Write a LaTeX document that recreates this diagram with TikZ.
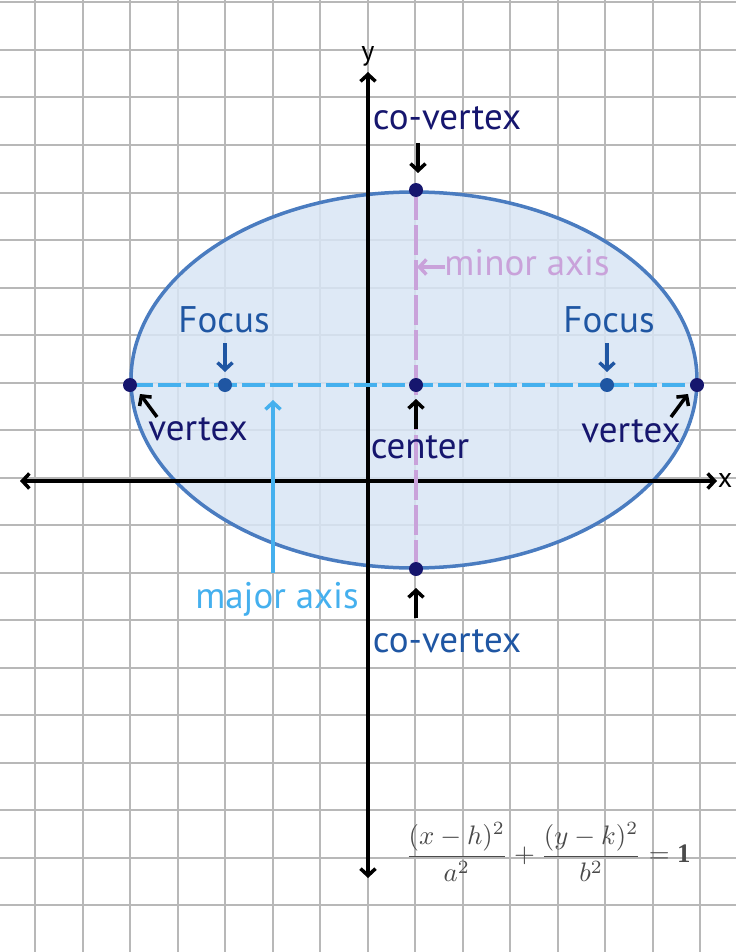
\documentclass[tikz,border=0pt]{standalone}
\usepackage{fontspec}
\setmainfont{PT Sans}
\newfontfamily\eqserif{Liberation Serif}
\usetikzlibrary{arrows.meta}
\definecolor{gridc}{HTML}{B8B8B8}
\definecolor{ellfill}{HTML}{D8E5F4}
\definecolor{elldraw}{HTML}{4A7CC0}
\definecolor{navy}{HTML}{16166E}
\definecolor{midblue}{HTML}{1F56A3}
\definecolor{lightblue}{HTML}{45B0EE}
\definecolor{lilac}{HTML}{C9A2DA}
\definecolor{formulac}{HTML}{4A4A4A}
\tikzset{
  lbl/.style={font=\fontsize{37}{40}\selectfont, anchor=base, inner sep=0pt},
  axlbl/.style={font=\fontsize{28}{30}\selectfont, anchor=base, inner sep=0pt},
  axisline/.style={line width=3.5pt, {Straight Barb[length=7pt,width=15pt,line width=3.5pt]}-{Straight Barb[length=7pt,width=15pt,line width=3.5pt]}},
  ptr/.style={line width=3.5pt, -{Straight Barb[length=7pt,width=15pt,line width=3.5pt]}},
  dotnavy/.style={circle, fill=navy, minimum size=14pt, inner sep=0pt},
  dotfocus/.style={circle, fill=midblue, minimum size=14pt, inner sep=0pt},
}
\begin{document}
\begin{tikzpicture}[x=1pt,y=-1pt]
\useasboundingbox (0,0) rectangle (736,952);
% grid
\foreach \i in {0,...,14} {
  \draw[gridc, line width=2pt] ({35+47.5*\i},0) -- ({35+47.5*\i},952);
}
\foreach \j in {0,...,20} {
  \draw[gridc, line width=2pt] (0,{2.5+47.5*\j}) -- (736,{2.5+47.5*\j});
}
% ellipse
\draw[elldraw, line width=3.5pt, fill=ellfill, fill opacity=0.85] (414,380) ellipse [x radius=283, y radius=188];
% axes
\node[axlbl] (xl) at (725,487) {x};
\node[axlbl] (yl) at (368,61) {y};
\coordinate (xa) at (20,481);
\coordinate (xb) at (717,481);
\coordinate (ya) at (368,72);
\coordinate (yb) at (368,878);
\draw[axisline] (xa) -- (xb);
\draw[axisline] (ya) -- (yb);
% points
\coordinate (C) at (416,385);
\coordinate (V1) at (130,385);
\coordinate (V2) at (697,385);
\coordinate (F1) at (225,385);
\coordinate (F2) at (607,385);
\coordinate (CV1) at (416,190);
\coordinate (CV2) at (416,569);
% axes of ellipse
\draw[lightblue, line width=4pt, dash pattern=on 23pt off 5pt] (V1) -- (V2);
\draw[lilac, line width=4pt, dash pattern=on 30pt off 5pt] (CV1) -- (CV2);
% dots
\node[dotnavy] (v1) at (V1) {};
\node[dotnavy] (v2) at (V2) {};
\node[dotnavy] (c) at (C) {};
\node[dotnavy] (cv1) at (CV1) {};
\node[dotnavy] (cv2) at (CV2) {};
\node[dotfocus] (f1) at (F1) {};
\node[dotfocus] (f2) at (F2) {};
% labels
\node[lbl, text=navy] (tcv1) at (447,130) {co-vertex};
\node[lbl, text=midblue] (tcv2) at (447,652) {co-vertex};
\node[lbl, text=midblue] (tf1) at (224,332) {Focus};
\node[lbl, text=midblue] (tf2) at (609,332) {Focus};
\node[lbl, text=navy] (tv1) at (198,440) {vertex};
\node[lbl, text=navy] (tv2) at (631,442) {vertex};
\node[lbl, text=navy] (tc) at (420,458) {center};
\node[lbl, text=lightblue] (tmaj) at (277,608) {major axis};
\node[lbl, text=lilac] (tmin) at (527,275) {minor axis};
% pointer arrows
\coordinate (a1s) at (418,143); \coordinate (a1e) at (418,173);
\draw[ptr] (a1s) -- (a1e);
\coordinate (a2s) at (416,618); \coordinate (a2e) at (416,588);
\draw[ptr] (a2s) -- (a2e);
\coordinate (a3s) at (225,343); \coordinate (a3e) at (225,372);
\draw[ptr, midblue] (a3s) -- (a3e);
\coordinate (a4s) at (607,343); \coordinate (a4e) at (607,372);
\draw[ptr, midblue] (a4s) -- (a4e);
\coordinate (a5s) at (157,417); \coordinate (a5e) at (140,394);
\draw[ptr] (a5s) -- (a5e);
\coordinate (a6s) at (671,417); \coordinate (a6e) at (688,394);
\draw[ptr] (a6s) -- (a6e);
\coordinate (a7s) at (416,429); \coordinate (a7e) at (416,399);
\draw[ptr] (a7s) -- (a7e);
\coordinate (a8s) at (273,573); \coordinate (a8e) at (273,400);
\draw[ptr, lightblue] (a8s) -- (a8e);
\coordinate (a9s) at (445,267); \coordinate (a9e) at (417,267);
\draw[ptr, lilac] (a9s) -- (a9e);
% formula
\node[text=formulac, inner sep=0pt] (eq) at (548,852)
  {\resizebox{285pt}{!}{$\displaystyle\frac{(x-h)^2}{a^2}+\frac{(y-k)^2}{b^2}=\mbox{\eqserif\bfseries 1}$}};
\end{tikzpicture}
\end{document}
